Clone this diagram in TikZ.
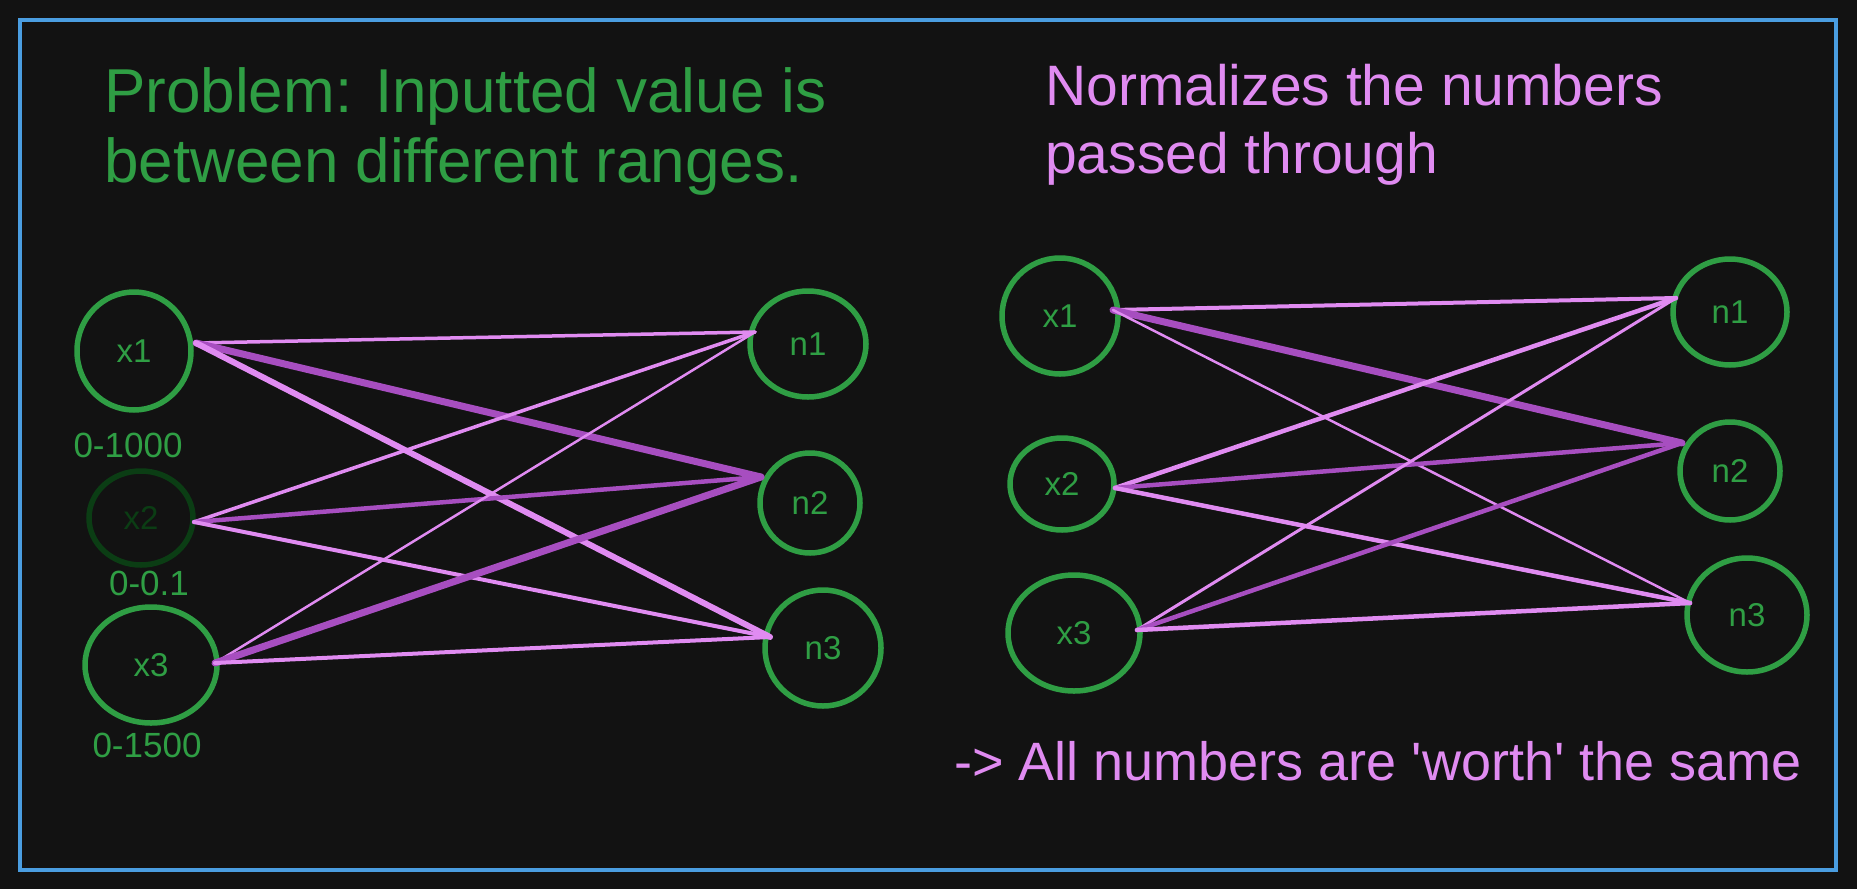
\documentclass[tikz,border=0pt]{standalone}
\usepackage{fontspec}
\usetikzlibrary{shapes.geometric}
\newfontfamily\hand{Liberation Sans}[Ligatures=TeXOff]
\definecolor{bg}{HTML}{121212}
\definecolor{frameblue}{HTML}{4A9DE0}
\definecolor{grn}{HTML}{2F9E44}
\definecolor{dkgrn}{HTML}{0B3D14}
\definecolor{pinkl}{HTML}{E08BF1}
\definecolor{purpd}{HTML}{A74EC0}
\tikzset{
  neuron/.style={ellipse, draw=grn, line width=5.5pt, text=grn, inner sep=0pt,
    font=\hand\fontsize{33}{33}\selectfont},
  dimneuron/.style={neuron, draw=dkgrn, text=dkgrn},
  rangelbl/.style={text=grn, inner sep=0pt, font=\hand\fontsize{35}{35}\selectfont},
  lite/.style={draw=pinkl, line cap=round},
  dark/.style={draw=purpd, line cap=round},
  titleg/.style={text=grn, inner sep=0pt, anchor=base west, font=\hand\fontsize{62}{62}\selectfont},
  titlep/.style={text=pinkl, inner sep=0pt, anchor=base west, font=\hand\fontsize{57}{57}\selectfont},
}
\begin{document}
\begin{tikzpicture}[x=1pt,y=-1pt]
\fill[bg] (0,0) rectangle (1857,889);
\useasboundingbox (0,0) rectangle (1857,889);
\draw[frameblue, line width=3.5pt] (20,20) rectangle (1836,870);

% titles
\node[titleg] (t1a) at (104,112) {Problem: Inputted value is};
\node[titleg] (t1b) at (104,182) {between different ranges.};
\node[titlep] (t2a) at (1045,105) {Normalizes the numbers};
\node[titlep] (t2b) at (1045,173) {passed through};
\node[titlep, font=\hand\fontsize{54}{54}\selectfont] (t3) at (954,780) {-> All numbers are 'worth' the same};

% left network
\node[neuron, minimum width=114pt, minimum height=118pt] (lx1) at (134,351) {x1};
\node[dimneuron, minimum width=104pt, minimum height=94pt] (lx2) at (141,518) {x2};
\node[neuron, minimum width=132pt, minimum height=116pt] (lx3) at (151,665) {x3};
\node[neuron, minimum width=116pt, minimum height=106pt] (ln1) at (808,344) {n1};
\node[neuron, minimum width=100pt, minimum height=100pt] (ln2) at (810,503) {n2};
\node[neuron, minimum width=116pt, minimum height=116pt] (ln3) at (823,648) {n3};
\node[rangelbl] (r1) at (128,445) {0-1000};
\node[rangelbl] (r2) at (149,583) {0-0.1};
\node[rangelbl] (r3) at (147,745) {0-1500};

\coordinate (lx1p) at (196,343);
\coordinate (lx2p) at (194,522);
\coordinate (lx3p) at (215,663);
\coordinate (ln1p) at (755,332);
\coordinate (ln2p) at (761,477);
\coordinate (ln3p) at (770,637);

\draw[lite, line width=3.5pt] (lx1p) -- (ln1p);
\draw[dark, line width=7pt] (lx1p) -- (ln2p);
\draw[lite, line width=6pt] (lx1p) -- (ln3p);
\draw[lite, line width=3.5pt] (lx2p) -- (ln1p);
\draw[dark, line width=4.5pt] (lx2p) -- (ln2p);
\draw[lite, line width=4pt] (lx2p) -- (ln3p);
\draw[lite, line width=2.5pt] (lx3p) -- (ln1p);
\draw[dark, line width=7pt] (lx3p) -- (ln2p);
\draw[lite, line width=4pt] (lx3p) -- (ln3p);

% right network
\node[neuron, minimum width=116pt, minimum height=116pt] (rx1) at (1060,316) {x1};
\node[neuron, minimum width=104pt, minimum height=92pt] (rx2) at (1062,484) {x2};
\node[neuron, minimum width=132pt, minimum height=116pt] (rx3) at (1074,633) {x3};
\node[neuron, minimum width=114pt, minimum height=106pt] (rn1) at (1730,312) {n1};
\node[neuron, minimum width=100pt, minimum height=98pt] (rn2) at (1730,471) {n2};
\node[neuron, minimum width=120pt, minimum height=114pt] (rn3) at (1747,615) {n3};

\coordinate (rx1p) at (1113,310);
\coordinate (rx2p) at (1115,488);
\coordinate (rx3p) at (1137,630);
\coordinate (rn1p) at (1676,298);
\coordinate (rn2p) at (1682,443);
\coordinate (rn3p) at (1690,603);

\draw[lite, line width=4pt] (rx1p) -- (rn1p);
\draw[dark, line width=7pt] (rx1p) -- (rn2p);
\draw[lite, line width=2.5pt] (rx1p) -- (rn3p);
\draw[lite, line width=4.5pt] (rx2p) -- (rn1p);
\draw[dark, line width=4.5pt] (rx2p) -- (rn2p);
\draw[lite, line width=4.5pt] (rx2p) -- (rn3p);
\draw[lite, line width=3pt] (rx3p) -- (rn1p);
\draw[dark, line width=4.5pt] (rx3p) -- (rn2p);
\draw[lite, line width=4.5pt] (rx3p) -- (rn3p);
\end{tikzpicture}
\end{document}
